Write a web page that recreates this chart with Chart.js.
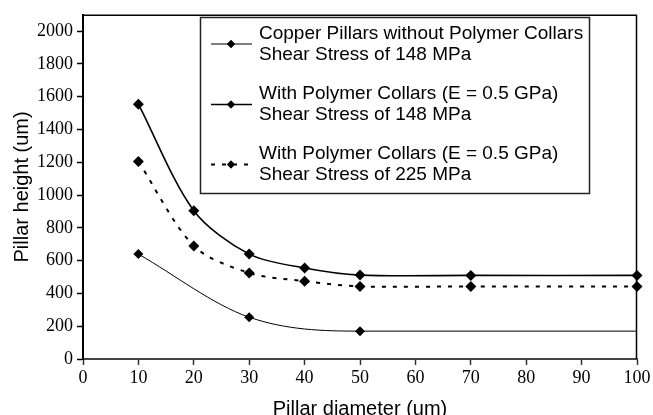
<!DOCTYPE html>
<html><head><meta charset="utf-8">
<script src="https://cdn.jsdelivr.net/npm/chart.js@4/dist/chart.umd.min.js"></script>
<style>html,body{margin:0;padding:0;background:#fff}#wrap{width:653px;height:415px}</style>
</head><body><div id="wrap"><canvas id="c" width="653" height="415"></canvas></div>
<script>
// ---- data ----
const xNoCollar = [10, 30, 50, 100];
const yNoCollar = [640, 255, 170, 170];
const xCollar = [10, 20, 30, 40, 50, 70, 100];
const yCollar148 = [1555, 905, 640, 555, 512, 510, 510];
const yCollar225 = [1205, 690, 525, 475, 443, 443, 443];
const xTicks = [0, 10, 20, 30, 40, 50, 60, 70, 80, 90, 100];
const yTicks = [0, 200, 400, 600, 800, 1000, 1200, 1400, 1600, 1800, 2000];
const seriesLabels = [
  ["Copper Pillars without Polymer Collars", "Shear Stress of 148 MPa"],
  ["With Polymer Collars (E = 0.5 GPa)", "Shear Stress of 148 MPa"],
  ["With Polymer Collars (E = 0.5 GPa)", "Shear Stress of 225 MPa"]
];
const xTitle = "Pillar diameter (um)";
const yTitle = "Pillar height (um)";

const toPts = (xs, ys) => xs.map((x, i) => ({x: x, y: ys[i]}));

const framePlugin = {
  id: 'frame',
  beforeDatasetsDraw(chart) {
    const {ctx, chartArea: a} = chart;
    ctx.save();
    ctx.strokeStyle = '#000';
    ctx.lineWidth = 1.5;
    ctx.beginPath();
    ctx.moveTo(a.left, a.top + 0.5);
    ctx.lineTo(a.right, a.top + 0.5);
    ctx.moveTo(a.right - 0.5, a.top);
    ctx.lineTo(a.right - 0.5, a.bottom);
    ctx.stroke();
    ctx.restore();
  }
};

const legendPlugin = {
  id: 'boxLegend',
  afterDraw(chart) {
    const ctx = chart.ctx;
    const bx = 200, by = 17, bw = 389, bh = 176;
    ctx.save();
    ctx.fillStyle = '#fff';
    ctx.fillRect(bx, by, bw, bh);
    ctx.strokeStyle = '#222';
    ctx.lineWidth = 1.5;
    ctx.strokeRect(bx + 0.5, by + 0.5, bw, bh);
    const centers = [44, 104.5, 164.5];
    chart.data.datasets.forEach((ds, i) => {
      const cy = centers[i];
      ctx.save();
      ctx.strokeStyle = '#000';
      ctx.lineWidth = ds.borderWidth;
      ctx.setLineDash(ds.borderDash || []);
      ctx.beginPath();
      ctx.moveTo(211, cy);
      ctx.lineTo(252, cy);
      ctx.stroke();
      ctx.setLineDash([]);
      ctx.fillStyle = '#000';
      Chart.helpers.drawPoint(ctx, {pointStyle: 'rectRot', radius: 4, borderWidth: 0}, 231, cy);
      ctx.fill();
      ctx.restore();
      ctx.fillStyle = '#000';
      ctx.font = '19px "Liberation Sans", Arial, sans-serif';
      ctx.textBaseline = 'middle';
      ctx.textAlign = 'left';
      ctx.fillText(seriesLabels[i][0], 259, cy - 10.5);
      ctx.fillText(seriesLabels[i][1], 259, cy + 10.5);
    });
    ctx.restore();
  }
};

new Chart(document.getElementById('c'), {
  type: 'line',
  data: {
    datasets: [
      {
        label: seriesLabels[0].join(' '),
        data: toPts(xNoCollar, yNoCollar),
        borderColor: '#000', backgroundColor: '#000',
        borderWidth: 1,
        pointStyle: 'rectRot', pointRadius: [5, 5, 5, 0],
        pointBackgroundColor: '#000', pointBorderWidth: 0,
        cubicInterpolationMode: 'monotone', clip: false
      },
      {
        label: seriesLabels[1].join(' '),
        data: toPts(xCollar, yCollar148),
        borderColor: '#000', backgroundColor: '#000',
        borderWidth: 1.6,
        pointStyle: 'rectRot', pointRadius: 5.5,
        pointBackgroundColor: '#000', pointBorderWidth: 0,
        tension: 0.3, clip: false
      },
      {
        label: seriesLabels[2].join(' '),
        data: toPts(xCollar, yCollar225),
        borderColor: '#000', backgroundColor: '#000',
        borderWidth: 2, borderDash: [4, 7],
        pointStyle: 'rectRot', pointRadius: 5.5,
        pointBackgroundColor: '#000', pointBorderWidth: 0,
        tension: 0.3, clip: false
      }
    ]
  },
  options: {
    responsive: false,
    animation: false,
    devicePixelRatio: 1,
    layout: {padding: {left: 0, top: 12, right: 16, bottom: 0}},
    plugins: {legend: {display: false}, tooltip: {enabled: false}},
    scales: {
      x: {
        type: 'linear', min: 0, max: 100,
        afterBuildTicks: s => { s.ticks = xTicks.map(v => ({value: v})); },
        afterFit: s => { s.height = 56; },
        grid: {drawOnChartArea: false, drawTicks: true, tickLength: 6, tickColor: '#333', tickWidth: 1.5},
        border: {display: true, color: '#444', width: 2},
        ticks: {font: {family: '"Liberation Serif", "Times New Roman", serif', size: 18}, color: '#000', padding: 2, maxRotation: 0, autoSkip: false, callback: v => String(v)},
        title: {display: true, text: xTitle, color: '#000', font: {family: '"Liberation Sans", Arial, sans-serif', size: 20, lineHeight: 0.6}, padding: 0}
      },
      y: {
        type: 'linear', min: 0, max: 2100,
        afterBuildTicks: s => { s.ticks = yTicks.map(v => ({value: v})); },
        afterFit: s => { s.width = 83; },
        grid: {drawOnChartArea: false, drawTicks: true, tickLength: 6, tickColor: '#000', tickWidth: 1.5},
        border: {display: true, color: '#000', width: 2},
        ticks: {font: {family: '"Liberation Serif", "Times New Roman", serif', size: 18}, color: '#000', padding: 4, autoSkip: false, callback: v => String(v)},
        title: {display: true, text: yTitle, color: '#000', font: {family: '"Liberation Sans", Arial, sans-serif', size: 20}, padding: {top: 10, bottom: 0}}
      }
    }
  },
  plugins: [framePlugin, legendPlugin]
});
</script></body></html>
